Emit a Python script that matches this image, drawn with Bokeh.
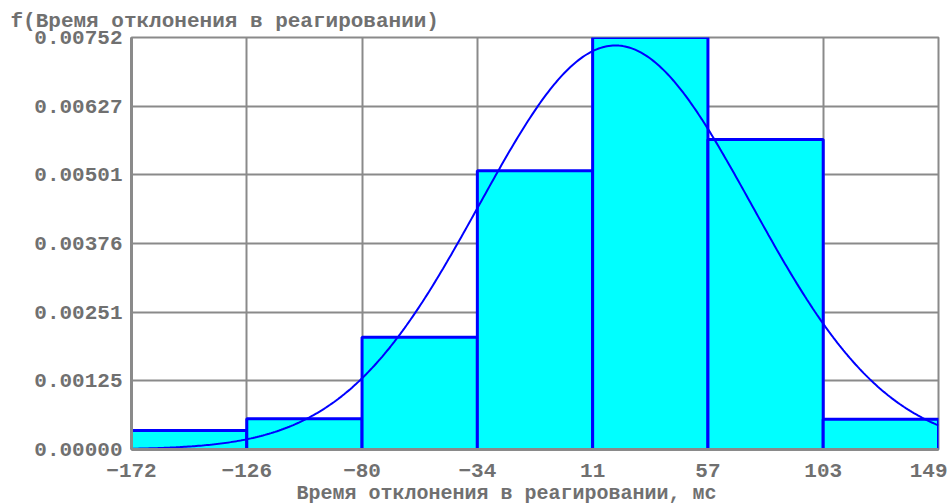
import numpy as np
from bokeh.plotting import figure
from bokeh.models import Range1d, FixedTicker, Title
from bokeh.embed import file_html
from bokeh.resources import INLINE

# ---- data ----
bin_edges = [-172.0, -126.14, -80.29, -34.43, 11.43, 57.29, 103.14, 149.0]
densities = [0.000348, 0.000560, 0.00205, 0.00509, 0.00752, 0.00566, 0.00055]
x_tick_labels = ["−172", "−126", "−80", "−34", "11", "57", "103", "149"]
y_ticks = [0.0, 0.0012533, 0.0025067, 0.00376, 0.0050133, 0.0062667, 0.00752]
y_tick_labels = ["0.00000", "0.00125", "0.00251", "0.00376", "0.00501", "0.00627", "0.00752"]
fit_mean = 20.5     # fitted normal curve parameters
fit_sigma = 54.1

FONT = "Liberation Mono"
TXT = "#707070"
GRID = "#8a8a8a"
FS = "21px"

x0, x1 = bin_edges[0], bin_edges[-1]
y0, y1 = 0.0, y_ticks[-1]

p = figure(width=947, height=504, output_backend="svg", toolbar_location=None,
           x_range=Range1d(x0, x1), y_range=Range1d(y0, y1),
           frame_width=807, frame_height=412,
           min_border_left=131, min_border_right=9, min_border_top=37, min_border_bottom=55)

t = Title(text="f(Время отклонения в реагировании)", align="left", offset=-121,
          text_font=FONT, text_font_size=FS, text_font_style="bold", text_color=TXT,
          standoff=10)
p.add_layout(t, "above")

p.quad(left=bin_edges[:-1], right=bin_edges[1:], bottom=0, top=densities,
       fill_color="#00ffff", line_color="#0000ff", line_width=3)

xs = np.linspace(x0, x1, 400)
ys = np.exp(-0.5 * ((xs - fit_mean) / fit_sigma) ** 2) / (fit_sigma * np.sqrt(2 * np.pi))
p.line(xs, ys, line_color="#0000ff", line_width=2)

xt = [float(v) for v in bin_edges]
p.xaxis.ticker = FixedTicker(ticks=xt)
p.xaxis.major_label_overrides = {v: l for v, l in zip(xt, x_tick_labels)}
p.yaxis.ticker = FixedTicker(ticks=y_ticks)
p.yaxis.major_label_overrides = {v: l for v, l in zip(y_ticks, y_tick_labels)}

for ax in (p.xaxis[0], p.yaxis[0]):
    ax.major_label_text_font = FONT
    ax.major_label_text_font_size = FS
    ax.major_label_text_font_style = "bold"
    ax.major_label_text_color = TXT
    ax.major_tick_line_color = None
    ax.minor_tick_line_color = None
    ax.axis_line_color = GRID
    ax.axis_line_width = 3
p.xaxis.major_label_standoff = 8
p.xaxis.major_label_text_align = "right"
p.yaxis.major_label_standoff = 3
p.yaxis.major_label_text_baseline = "top"

p.add_layout(Title(text="Время отклонения в реагировании, мс", align="left", offset=165,
                   text_font=FONT, text_font_size="20px", text_font_style="bold",
                   text_color=TXT, standoff=0), "below")

p.xgrid.ticker = FixedTicker(ticks=xt)
p.ygrid.ticker = FixedTicker(ticks=y_ticks)
p.grid.grid_line_color = GRID
p.grid.grid_line_width = 2
p.outline_line_color = GRID
p.outline_line_width = 2

open("out.html", "w").write(file_html(p, INLINE))
